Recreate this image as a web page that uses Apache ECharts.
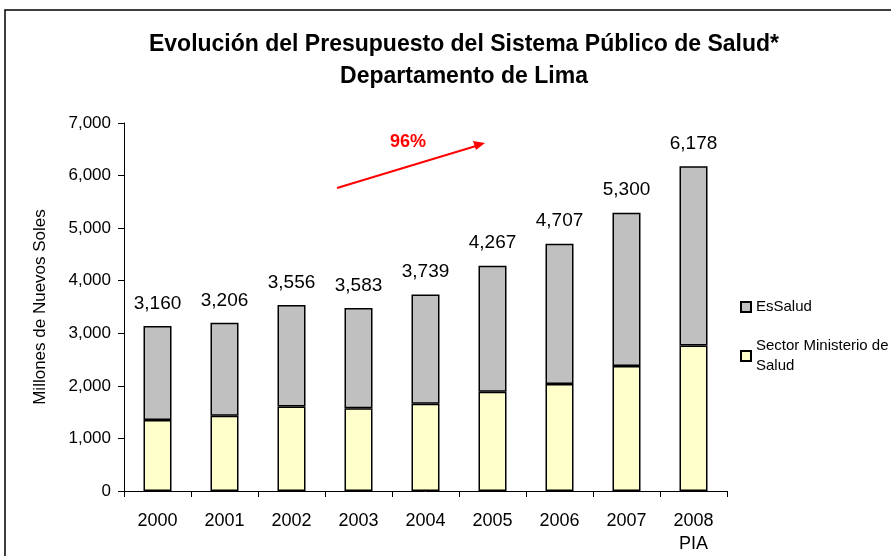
<!DOCTYPE html>
<html>
<head>
<meta charset="utf-8">
<script src="https://cdn.jsdelivr.net/npm/echarts@6/dist/echarts.min.js"></script>
<style>
  html, body { margin: 0; padding: 0; background: #fff; }
  #chart { width: 891px; height: 556px; }
</style>
</head>
<body>
<div id="chart"></div>
<script>
const years = ['2000', '2001', '2002', '2003', '2004', '2005', '2006', '2007', '2008\nPIA']
// Sector Ministerio de Salud (parte inferior)
const minsa = [1350, 1430, 1605, 1575, 1660, 1890, 2035, 2380, 2770]
// EsSalud (parte superior)
const essalud = [1790, 1770, 1935, 1905, 2080, 2395, 2670, 2915, 3408]
// totales rotulados sobre cada barra
const totals = [3160, 3206, 3556, 3583, 3739, 4267, 4707, 5300, 6178]
const growthLabel = '96%'

const font = 'Liberation Sans, Arial, sans-serif'
const fmt = v => v.toLocaleString('en-US')

const chart = echarts.init(document.getElementById('chart'))

chart.setOption({
  animation: false,
  textStyle: { fontFamily: font },
  title: {
    text: 'Evolución del Presupuesto del Sistema Público de Salud*\nDepartamento de Lima',
    left: 459,
    top: 24,
    textAlign: 'center',
    textStyle: { fontSize: 23, fontWeight: 'bold', color: '#000', lineHeight: 32, fontFamily: font },
  },
  legend: {
    data: ['EsSalud', 'Sector Ministerio de\nSalud'],
    orient: 'vertical',
    left: 735,
    top: 292,
    itemWidth: 10,
    itemHeight: 10,
    itemGap: 19,
    icon: 'rect',
    textStyle: { fontSize: 15, color: '#000', lineHeight: 20, fontFamily: font },
  },
  grid: { left: 124, right: 164, top: 123, bottom: 65, containLabel: false },
  xAxis: {
    type: 'category',
    data: years,
    axisLine: { lineStyle: { color: '#000', width: 1 } },
    axisTick: { show: true, length: 6, lineStyle: { color: '#000' } },
    axisLabel: { color: '#000', fontSize: 18, margin: 19, lineHeight: 23, interval: 0 },
  },
  yAxis: {
    type: 'value',
    min: 0,
    max: 7000,
    interval: 1000,
    name: 'Millones de Nuevos Soles',
    nameLocation: 'middle',
    nameGap: 75,
    nameRotate: 90,
    nameTextStyle: { color: '#000', fontSize: 17 },
    axisLine: { show: true, lineStyle: { color: '#000' } },
    axisTick: { show: true, length: 6, lineStyle: { color: '#000' } },
    splitLine: { show: false },
    axisLabel: { color: '#000', fontSize: 17, margin: 13, formatter: v => fmt(v) },
  },
  series: [
    {
      name: 'Sector Ministerio de\nSalud',
      type: 'bar',
      stack: 'total',
      data: minsa,
      barWidth: 28,
      itemStyle: { color: '#FFFFCC', borderColor: '#000', borderWidth: 1.5 },
    },
    {
      name: 'EsSalud',
      type: 'bar',
      stack: 'total',
      data: essalud,
      barWidth: 28,
      itemStyle: { color: '#C0C0C0', borderColor: '#000', borderWidth: 1.5 },
      label: {
        show: true,
        position: 'top',
        distance: 13,
        color: '#000',
        fontSize: 19,
        formatter: p => fmt(totals[p.dataIndex]),
      },
    },
  ],
  graphic: [
    {
      type: 'rect',
      shape: { x: 5, y: 10, width: 900, height: 560 },
      style: { fill: 'none', stroke: '#000', lineWidth: 1.5 },
      silent: true,
    },
    {
      type: 'line',
      shape: { x1: 337, y1: 188, x2: 476, y2: 146 },
      style: { stroke: '#ff0000', lineWidth: 2 },
    },
    {
      type: 'polygon',
      shape: { points: [[485, 143], [473, 141], [476, 150]] },
      style: { fill: '#ff0000' },
    },
    {
      type: 'text',
      left: 390,
      top: 133,
      style: { text: growthLabel, fill: '#ff0000', font: 'bold 18px ' + font },
    },
  ],
})
</script>
</body>
</html>
